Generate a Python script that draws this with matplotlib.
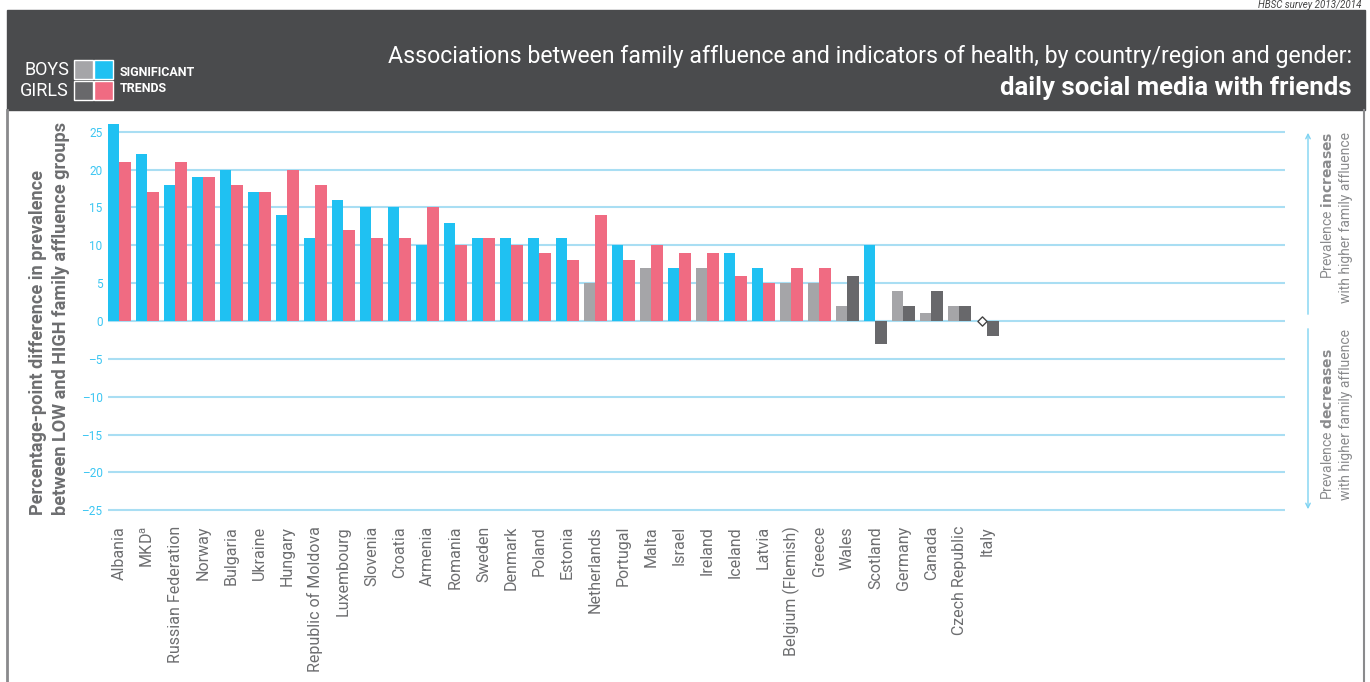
import numpy as np
import matplotlib
matplotlib.use("Agg")
import matplotlib.pyplot as plt
from matplotlib.patches import Rectangle
from matplotlib import font_manager

# data (percentage-point differences)
countries = ["Albania", "MKD$^\\mathregular{a}$", "Russian Federation", "Norway", "Bulgaria",
             "Ukraine", "Hungary", "Republic of Moldova", "Luxembourg", "Slovenia",
             "Croatia", "Armenia", "Romania", "Sweden", "Denmark", "Poland", "Estonia",
             "Netherlands", "Portugal", "Malta", "Israel", "Ireland", "Iceland", "Latvia",
             "Belgium (Flemish)", "Greece", "Wales", "Scotland", "Germany", "Canada",
             "Czech Republic", "Italy"]
boys = [26, 22, 18, 19, 20, 17, 14, 11, 16, 15, 15, 10, 13, 11, 11, 11, 11,
        5, 10, 7, 7, 7, 9, 7, 5, 5, 2, 10, 4, 1, 2, np.nan]
girls = [21, 17, 21, 19, 18, 17, 20, 18, 12, 11, 11, 15, 10, 11, 10, 9, 8,
         14, 8, 10, 9, 9, 6, 5, 7, 7, 6, -3, 2, 4, 2, -2]
boys_sig = [1, 1, 1, 1, 1, 1, 1, 1, 1, 1, 1, 1, 1, 1, 1, 1, 1,
            0, 1, 0, 1, 0, 1, 1, 0, 0, 0, 1, 0, 0, 0, 0]
girls_sig = [1, 1, 1, 1, 1, 1, 1, 1, 1, 1, 1, 1, 1, 1, 1, 1, 1,
             1, 1, 1, 1, 1, 1, 1, 1, 1, 0, 0, 0, 0, 0, 0]
yticks = [25, 20, 15, 10, 5, 0, -5, -10, -15, -20, -25]

BLUE = "#1FC1F2"
PINK = "#F06B82"
LGRAY = "#A5A5A8"
DGRAY = "#68686B"
HEADER = "#4A4B4D"
GRID = "#A9DEF3"
TXT = "#6D6E70"

installed = {f.name for f in font_manager.fontManager.ttflist}
NARROW = "Liberation Sans Narrow" if "Liberation Sans Narrow" in installed else "Roboto"
plt.rcParams["font.family"] = [NARROW, "DejaVu Sans"]

W, H = 1370, 682
fig = plt.figure(figsize=(W / 100, H / 100), dpi=100)

# header band
fig.patches.append(Rectangle((7 / W, 1 - 110 / H), 1358 / W, 100 / H,
                             transform=fig.transFigure, color=HEADER, zorder=0))
# frame lines down the sides
fig.add_artist(plt.Line2D([7 / W, 7 / W], [0, 1 - 110 / H], color="#8A8A8C", lw=2))
fig.add_artist(plt.Line2D([1364 / W, 1364 / W], [0, 1 - 110 / H], color="#8A8A8C", lw=1.5))

fig.text(1362 / W, 1 - 0.5 / H, "HBSC survey 2013/2014", ha="right", va="top",
         fontsize=7, style="italic", color="#444444")
fig.text(1352 / W, 1 - 57 / H,
         "Associations between family affluence and indicators of health, by country/region and gender:",
         ha="right", va="center", fontsize=16.7, color="white")
fig.text(1352 / W, 1 - 88 / H, "daily social media with friends", ha="right", va="center",
         fontsize=18.5, color="white", fontweight="bold")

# legend squares
sq = 19
for (x0, y0, c) in [(74, 60, LGRAY), (94, 60, BLUE), (74, 81, DGRAY), (94, 81, PINK)]:
    fig.patches.append(Rectangle((x0 / W, 1 - (y0 + sq) / H), sq / W, sq / H,
                                 transform=fig.transFigure, facecolor=c,
                                 edgecolor="white", lw=1))
fig.text(69 / W, 1 - 70 / H, "BOYS", ha="right", va="center", fontsize=13, color="white")
fig.text(69 / W, 1 - 91 / H, "GIRLS", ha="right", va="center", fontsize=13, color="white")
fig.text(120 / W, 1 - 72 / H, "SIGNIFICANT", ha="left", va="center", fontsize=9,
         color="white", fontweight="bold")
fig.text(120 / W, 1 - 88 / H, "TRENDS", ha="left", va="center", fontsize=9,
         color="white", fontweight="bold")

# main axes
ax = fig.add_axes([108 / W, 1 - 512 / H, 1177 / W, 392 / H])
x = np.arange(len(countries))
bw = 0.41
bc = [BLUE if s else LGRAY for s in boys_sig]
gc = [PINK if s else DGRAY for s in girls_sig]
ax.bar(x - bw / 2, np.nan_to_num(boys), bw, color=bc, zorder=2, linewidth=0)
ax.bar(x + bw / 2, girls, bw, color=gc, zorder=2, linewidth=0)
missing = np.isnan(boys)
ax.scatter(x[missing] - bw / 2, np.zeros(missing.sum()), marker="D", s=22,
           facecolor="white", edgecolor="#444444", lw=1, zorder=3)

ax.set_xlim(-0.41, -0.41 + 1177 / 28)
ax.set_ylim(-(512 - 321) / 7.57, (321 - 120) / 7.57)
for t in yticks:
    ax.axhline(t, color=GRID, lw=1.5, zorder=1)
ax.set_yticks(yticks)
ax.set_yticklabels([str(t).replace("-", "\u2013") for t in yticks])
ax.tick_params(axis="y", length=0, pad=4, labelsize=8.5, labelcolor="#3CC6F2")
ax.set_xticks(x)
ax.set_xticklabels(countries, rotation=90, fontsize=11.5, color=TXT)
ax.tick_params(axis="x", length=0, pad=10)
for s in ax.spines.values():
    s.set_visible(False)

fig.text(38 / W, 1 - 515 / H, "Percentage-point difference in prevalence",
         rotation=90, ha="center", va="bottom", fontsize=13.1, color=TXT, fontweight="bold")
fig.text(61 / W, 1 - 515 / H, "between LOW and HIGH family affluence groups",
         rotation=90, ha="center", va="bottom", fontsize=13.1, color=TXT, fontweight="bold")

# right-hand arrows and notes
ax_x = 1308 / W
fig.add_artist(matplotlib.patches.FancyArrowPatch((ax_x, 1 - 317 / H), (ax_x, 1 - 130 / H),
               transform=fig.transFigure, arrowstyle="->", mutation_scale=8,
               color="#7FD3F2", lw=1))
fig.add_artist(matplotlib.patches.FancyArrowPatch((ax_x, 1 - 326 / H), (ax_x, 1 - 512 / H),
               transform=fig.transFigure, arrowstyle="->", mutation_scale=8,
               color="#7FD3F2", lw=1))
fig.text(1328 / W, 1 - 132 / H, "Prevalence $\\bf{increases}$", rotation=90,
         ha="center", va="top", fontsize=10, color="#8A8B8D")
fig.text(1346 / W, 1 - 132 / H, "with higher family affluence", rotation=90,
         ha="center", va="top", fontsize=10, color="#8A8B8D")
fig.text(1328 / W, 1 - 500 / H, "Prevalence $\\bf{decreases}$", rotation=90,
         ha="center", va="bottom", fontsize=10, color="#8A8B8D")
fig.text(1346 / W, 1 - 500 / H, "with higher family affluence", rotation=90,
         ha="center", va="bottom", fontsize=10, color="#8A8B8D")

fig.savefig("out.png", dpi=100)
